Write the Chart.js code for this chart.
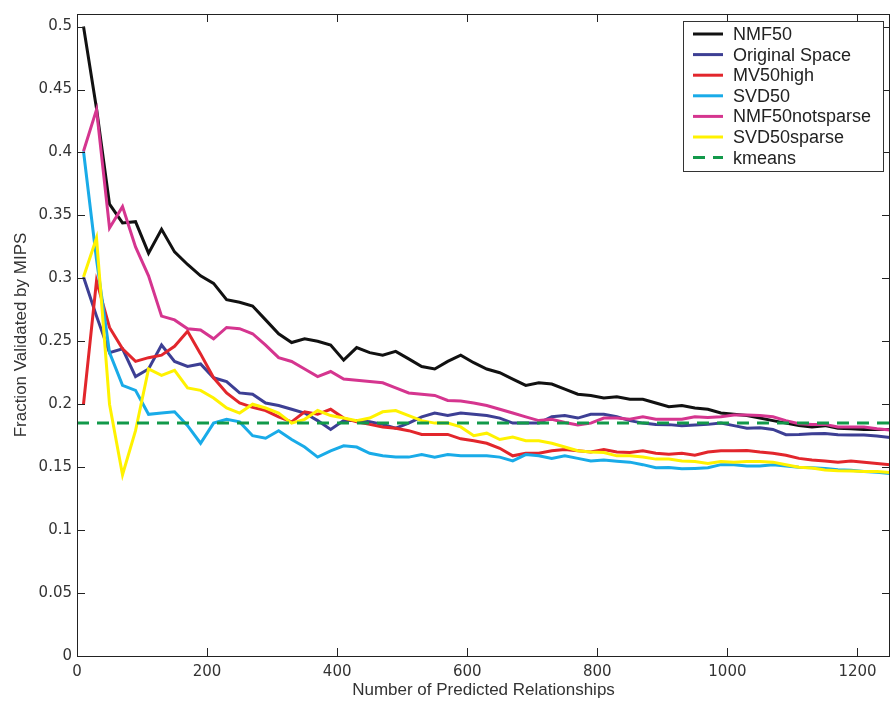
<!DOCTYPE html>
<html>
<head>
<meta charset="utf-8">
<script src="https://cdn.jsdelivr.net/npm/chart.js@4.4.1/dist/chart.umd.min.js"></script>
<style>
  html, body { margin: 0; padding: 0; background: #fff; }
  #wrap { width: 892px; height: 702px; }
</style>
</head>
<body>
<div id="wrap"><canvas id="grafico" width="892" height="702"></canvas></div>
<script>
// dados

var xs = [10, 30, 50, 70, 90, 110, 130, 150, 170, 190,
          210, 230, 250, 270, 290, 310, 330, 350, 370, 390,
          410, 430, 450, 470, 490, 510, 530, 550, 570, 590,
          610, 630, 650, 670, 690, 710, 730, 750, 770, 790,
          810, 830, 850, 870, 890, 910, 930, 950, 970, 990,
          1010, 1030, 1050, 1070, 1090, 1110, 1130, 1150, 1170, 1190,
          1210, 1230, 1250];

var nmf50 = [0.5, 0.435, 0.359, 0.344, 0.345, 0.32, 0.339, 0.321, 0.311, 0.302,
             0.296, 0.283, 0.281, 0.278, 0.267, 0.256, 0.249, 0.252, 0.25, 0.247,
             0.235, 0.245, 0.241, 0.239, 0.242, 0.236, 0.23, 0.228, 0.234, 0.239,
             0.233, 0.228, 0.225, 0.22, 0.215, 0.217, 0.216, 0.212, 0.208, 0.207,
             0.205, 0.206, 0.204, 0.204, 0.201, 0.198, 0.199, 0.197, 0.196, 0.193,
             0.192, 0.191, 0.189, 0.187, 0.185, 0.183, 0.182, 0.183, 0.181, 0.1805,
             0.18, 0.18, 0.18];

var originalSpace = [0.301, 0.27, 0.241, 0.244, 0.222, 0.228, 0.247, 0.234, 0.23, 0.232,
                     0.221, 0.218, 0.209, 0.208, 0.201, 0.199, 0.196, 0.193, 0.187, 0.18,
                     0.187, 0.187, 0.186, 0.184, 0.181, 0.185, 0.19, 0.193, 0.191, 0.193,
                     0.192, 0.191, 0.189, 0.185, 0.185, 0.185, 0.19, 0.191, 0.189, 0.192,
                     0.192, 0.19, 0.187, 0.185, 0.184, 0.1838, 0.183, 0.1835, 0.184, 0.185,
                     0.183, 0.181, 0.1813, 0.18, 0.1758, 0.176, 0.1765, 0.1767, 0.1757, 0.1756,
                     0.1755, 0.1748, 0.1735];

var mv50high = [0.2, 0.298, 0.261, 0.244, 0.234, 0.237, 0.239, 0.246, 0.258, 0.24,
                0.221, 0.209, 0.201, 0.1975, 0.195, 0.19, 0.186, 0.194, 0.192, 0.196,
                0.189, 0.186, 0.184, 0.182, 0.181, 0.179, 0.176, 0.176, 0.176, 0.1725,
                0.171, 0.169, 0.165, 0.159, 0.161, 0.161, 0.163, 0.164, 0.163, 0.162,
                0.164, 0.162, 0.1616, 0.163, 0.161, 0.1603, 0.161, 0.1595, 0.162, 0.163,
                0.163, 0.1633, 0.162, 0.161, 0.1595, 0.157, 0.1557, 0.155, 0.154, 0.155,
                0.154, 0.153, 0.152];

var svd50 = [0.401, 0.315, 0.241, 0.215, 0.211, 0.192, 0.193, 0.194, 0.183, 0.169,
             0.185, 0.188, 0.186, 0.175, 0.173, 0.179, 0.172, 0.166, 0.158, 0.163,
             0.167, 0.166, 0.161, 0.159, 0.158, 0.158, 0.16, 0.158, 0.16, 0.159,
             0.159, 0.159, 0.158, 0.155, 0.16, 0.159, 0.157, 0.159, 0.157, 0.155,
             0.1556, 0.1548, 0.154, 0.152, 0.1495, 0.1498, 0.1487, 0.149, 0.1495, 0.152,
             0.152, 0.151, 0.151, 0.152, 0.151, 0.15, 0.1495, 0.149, 0.148, 0.1475,
             0.1466, 0.146, 0.145];

var nmf50notsparse = [0.401, 0.434, 0.34, 0.357, 0.325, 0.302, 0.27, 0.267, 0.26, 0.259,
                      0.252, 0.261, 0.26, 0.256, 0.247, 0.237, 0.234, 0.228, 0.222, 0.226,
                      0.22, 0.219, 0.218, 0.217, 0.213, 0.209, 0.208, 0.207, 0.203, 0.2025,
                      0.201, 0.199, 0.196, 0.193, 0.19, 0.187, 0.188, 0.1855, 0.1835, 0.185,
                      0.189, 0.189, 0.188, 0.19, 0.188, 0.188, 0.188, 0.19, 0.1895, 0.19,
                      0.1915, 0.1915, 0.191, 0.19, 0.187, 0.1845, 0.184, 0.184, 0.182, 0.182,
                      0.182, 0.1805, 0.1795];

var svd50sparse = [0.301, 0.332, 0.2, 0.144, 0.179, 0.228, 0.223, 0.227, 0.213, 0.211,
                   0.205, 0.197, 0.193, 0.2, 0.197, 0.193, 0.185, 0.188, 0.195, 0.191,
                   0.189, 0.187, 0.189, 0.194, 0.195, 0.191, 0.187, 0.185, 0.185, 0.182,
                   0.175, 0.177, 0.172, 0.174, 0.171, 0.171, 0.169, 0.166, 0.163, 0.162,
                   0.1616, 0.159, 0.159, 0.158, 0.1564, 0.1564, 0.155, 0.1545, 0.153, 0.1545,
                   0.154, 0.1545, 0.1545, 0.154, 0.152, 0.15, 0.1493, 0.1477, 0.1472, 0.147,
                   0.1466, 0.1466, 0.1458];

var kmeansX = [0, 1250];
var kmeans = [0.185, 0.185];

var xTicks = [0, 200, 400, 600, 800, 1000, 1200];
var yTicks = [0, 0.05, 0.1, 0.15, 0.2, 0.25, 0.3, 0.35, 0.4, 0.45, 0.5];

var nomes = ['NMF50', 'Original Space', 'MV50high', 'SVD50', 'NMF50notsparse', 'SVD50sparse', 'kmeans'];
var cores = ['#111111', '#3d3f94', '#e2262c', '#19abe8', '#d5358f', '#fff200', '#12994a'];

function pares(xv, yv) {
    var lista = [];
    for (var i = 0; i < yv.length; i++) {
        lista.push({ x: xv[i], y: yv[i] });
    }
    return lista;
}

var series = [nmf50, originalSpace, mv50high, svd50, nmf50notsparse, svd50sparse];
var datasets = [];
for (var i = 0; i < series.length; i++) {
    datasets.push({
        label: nomes[i],
        data: pares(xs, series[i]),
        borderColor: cores[i],
        backgroundColor: cores[i],
        borderWidth: 3,
        pointRadius: 0,
        tension: 0,
        order: 10 - i
    });
}
datasets.push({
    label: nomes[6],
    data: pares(kmeansX, kmeans),
    borderColor: cores[6],
    backgroundColor: cores[6],
    borderWidth: 3,
    borderDash: [12, 8],
    pointRadius: 0,
    order: 0
});

// moldura com ticks para dentro (estilo matlab)
var moldura = {
    id: 'moldura',
    afterDatasetsDraw: function (chart) {
        var ctx = chart.ctx;
        var a = chart.chartArea;
        var sx = chart.scales.x, sy = chart.scales.y;
        var tam = 8;
        ctx.save();
        ctx.strokeStyle = '#222';
        ctx.lineWidth = 1;
        ctx.beginPath();
        xTicks.forEach(function (v) {
            var px = Math.round(sx.getPixelForValue(v)) + 0.5;
            ctx.moveTo(px, a.bottom); ctx.lineTo(px, a.bottom - tam);
            ctx.moveTo(px, a.top); ctx.lineTo(px, a.top + tam);
        });
        yTicks.forEach(function (v) {
            var py = Math.round(sy.getPixelForValue(v)) + 0.5;
            ctx.moveTo(a.left, py); ctx.lineTo(a.left + tam, py);
            ctx.moveTo(a.right, py); ctx.lineTo(a.right - tam, py);
        });
        ctx.stroke();
        ctx.strokeRect(Math.round(a.left) + 0.5, Math.round(a.top) + 0.5,
                       Math.round(a.right - a.left) - 1, Math.round(a.bottom - a.top));
        ctx.restore();
    }
};

// legenda dentro do grafico
var legenda = {
    id: 'legenda',
    afterDraw: function (chart) {
        var ctx = chart.ctx;
        var bx = 683, by = 21, bw = 200, bh = 150;
        ctx.save();
        ctx.fillStyle = '#fff';
        ctx.fillRect(bx, by, bw, bh);
        ctx.strokeStyle = '#333';
        ctx.lineWidth = 1;
        ctx.strokeRect(bx + 0.5, by + 0.5, bw, bh);
        ctx.font = '18px "Liberation Sans", Arial, sans-serif';
        ctx.textBaseline = 'middle';
        chart.data.datasets.forEach(function (ds, i) {
            var y = by + 13 + i * 20.6;
            ctx.strokeStyle = ds.borderColor;
            ctx.lineWidth = 3;
            ctx.setLineDash(ds.borderDash || []);
            ctx.beginPath();
            ctx.moveTo(bx + 10, y);
            ctx.lineTo(bx + 40, y);
            ctx.stroke();
            ctx.setLineDash([]);
            ctx.fillStyle = '#222';
            ctx.fillText(ds.label, bx + 50, y + 1);
        });
        ctx.restore();
    }
};

var ctx = document.getElementById('grafico').getContext('2d');
var myChart = new Chart(ctx, {
    type: 'line',
    data: { datasets: datasets },
    options: {
        responsive: false,
        animation: false,
        devicePixelRatio: 1,
        layout: { padding: { left: 0, right: 2, top: 12, bottom: 0 } },
        plugins: {
            legend: { display: false },
            tooltip: { enabled: false }
        },
        scales: {
            x: {
                type: 'linear',
                min: 0,
                max: 1250,
                afterBuildTicks: function (s) { s.ticks = xTicks.map(function (v) { return { value: v }; }); },
                afterFit: function (s) { s.height = 46; },
                grid: { display: false, drawTicks: false },
                border: { display: false },
                ticks: {
                    padding: 7,
                    color: '#333',
                    maxRotation: 0,
                    font: { family: '"DejaVu Sans", sans-serif', size: 15 },
                    callback: function (v) { return String(v); }
                },
                title: {
                    display: true,
                    text: 'Number of Predicted Relationships',
                    color: '#333',
                    padding: { top: 0, bottom: 1 },
                    font: { family: '"Liberation Sans", Arial, sans-serif', size: 17 }
                }
            },
            y: {
                min: 0,
                max: 0.51,
                afterBuildTicks: function (s) { s.ticks = yTicks.map(function (v) { return { value: v }; }); },
                afterFit: function (s) { s.width = 77; },
                grid: { display: false, drawTicks: false },
                border: { display: false },
                ticks: {
                    padding: 5,
                    color: '#333',
                    font: { family: '"DejaVu Sans", sans-serif', size: 15 },
                    callback: function (v) { return String(+Number(v).toFixed(2)); }
                },
                title: {
                    display: true,
                    text: 'Fraction Validated by MIPS',
                    color: '#333',
                    padding: { top: 11, bottom: 0 },
                    font: { family: '"Liberation Sans", Arial, sans-serif', size: 17 }
                }
            }
        }
    },
    plugins: [moldura, legenda]
});
</script>
</body>
</html>
